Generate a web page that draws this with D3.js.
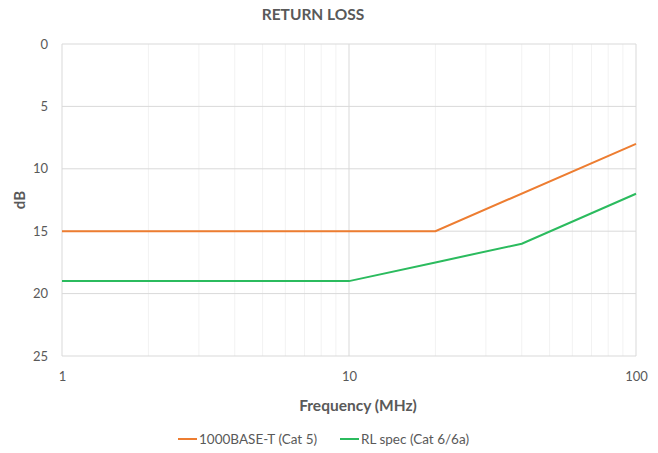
<!DOCTYPE html>
<html><head><meta charset="utf-8">
<script src="https://cdn.jsdelivr.net/npm/d3@7"></script>
<style>body{margin:0;background:#fff;}svg{display:block;font-family:Lato,"Open Sans",sans-serif;}</style>
</head><body><svg id="c" width="658" height="453"></svg>
<script>
const seriesNames = ["1000BASE-T (Cat 5)", "RL spec (Cat 6/6a)"];
const seriesColors = ["#ED7D31", "#2BBB5E"];
const cat5Freq = [1, 20, 100];
const cat5Loss = [15, 15, 8];
const cat6Freq = [1, 10, 20, 40, 100];
const cat6Loss = [19, 19, 17.5, 16, 12];
const yTicks = [0, 5, 10, 15, 20, 25];
const xTicks = [1, 10, 100];

const svg = d3.select("#c");
const m = {l: 62, r: 22, t: 44, b: 97};
const W = 658, H = 453;
const x = d3.scaleLog().domain([1, 100]).range([m.l, W - m.r]);
const y = d3.scaleLinear().domain([0, 25]).range([m.t, H - m.b]);

const minor = [];
for (let d = 1; d < 100; d *= 10) for (let k = 2; k <= 9; k++) minor.push(d * k);
svg.append("g").selectAll("line").data(minor).join("line")
  .attr("x1", d => x(d)).attr("x2", d => x(d)).attr("y1", y(0)).attr("y2", y(25))
  .attr("stroke", "#F2F2F2").attr("stroke-width", 1);
svg.append("g").selectAll("line").data(xTicks).join("line")
  .attr("x1", d => x(d)).attr("x2", d => x(d)).attr("y1", y(0)).attr("y2", y(25))
  .attr("stroke", "#D9D9D9").attr("stroke-width", 1);
svg.append("g").selectAll("line").data(yTicks).join("line")
  .attr("x1", x(1)).attr("x2", x(100)).attr("y1", d => y(d)).attr("y2", d => y(d))
  .attr("stroke", "#D9D9D9").attr("stroke-width", 1);

const yAxis = d3.axisLeft(y).tickValues(yTicks).tickSize(0).tickPadding(14);
const gy = svg.append("g").attr("transform", `translate(${m.l},0)`).call(yAxis);
gy.select(".domain").remove();
gy.selectAll("text").attr("fill", "#595959").attr("font-size", 13).attr("font-family", "Lato,sans-serif");

const xAxis = d3.axisBottom(x).tickValues(xTicks).tickFormat(d3.format("d")).tickSize(0).tickPadding(16);
const gx = svg.append("g").attr("transform", `translate(0,${y(25)})`).call(xAxis);
gx.select(".domain").remove();
gx.selectAll("text").attr("fill", "#595959").attr("font-size", 13).attr("font-family", "Lato,sans-serif");

const line = d3.line().x(d => x(d[0])).y(d => y(d[1]));
const data = [d3.zip(cat5Freq, cat5Loss), d3.zip(cat6Freq, cat6Loss)];
svg.append("g").selectAll("path").data(data).join("path")
  .attr("d", line).attr("fill", "none")
  .attr("stroke", (d, i) => seriesColors[i]).attr("stroke-width", 2);

svg.append("text").attr("x", 313).attr("y", 20).attr("text-anchor", "middle")
  .attr("font-size", 15.5).attr("font-weight", "bold").attr("fill", "#595959").text("RETURN LOSS");
svg.append("text").attr("x", 358).attr("y", 411).attr("text-anchor", "middle")
  .attr("font-size", 15.5).attr("font-weight", "bold").attr("fill", "#595959").text("Frequency (MHz)");
svg.append("text").attr("transform", "translate(25,200) rotate(-90)").attr("text-anchor", "middle")
  .attr("font-size", 15).attr("font-weight", "bold").attr("fill", "#595959").text("dB");

const legX = [178, 340];
const lg = svg.append("g").selectAll("g").data(seriesNames).join("g")
  .attr("transform", (d, i) => `translate(${legX[i]},439)`);
lg.append("line").attr("x1", 0).attr("x2", 19).attr("y1", 0).attr("y2", 0)
  .attr("stroke", (d, i) => seriesColors[i]).attr("stroke-width", 2);
lg.append("text").attr("x", 21).attr("y", 5).attr("font-size", 13.5).attr("fill", "#595959").text(d => d);
</script></body></html>
